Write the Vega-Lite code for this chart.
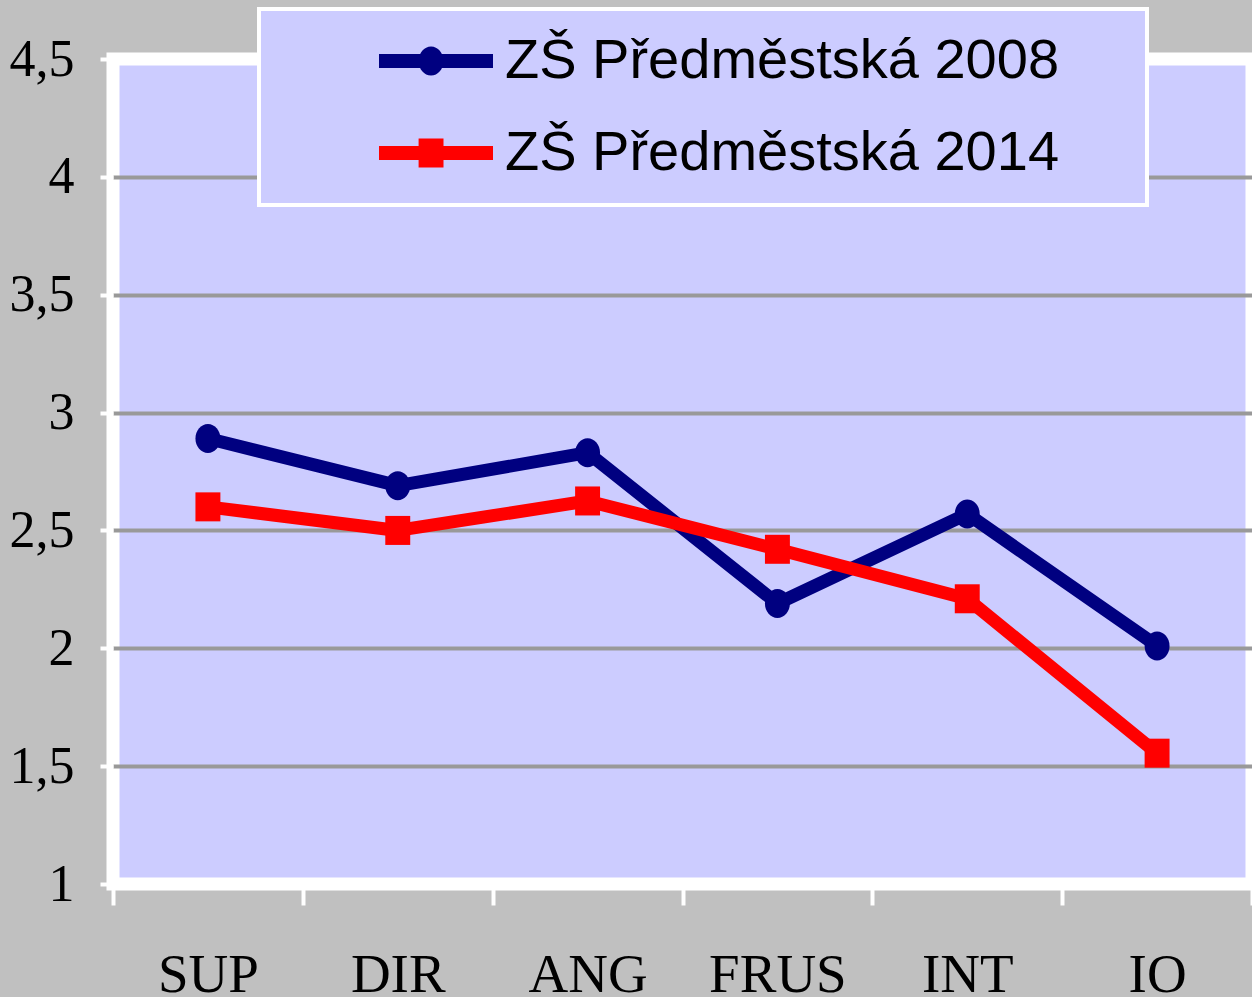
{
  "$schema": "https://vega.github.io/schema/vega-lite/v6.json",
  "width": 1139,
  "height": 825,
  "autosize": {"type": "none"},
  "padding": {"left": 113, "top": 59, "right": 0, "bottom": 113},
  "background": "#c0c0c0",
  "config": {
    "view": {"fill": "#ccccff", "stroke": "white", "strokeWidth": 13}
  },
  "data": {
    "values": [
      {"cat": "SUP", "series": "ZŠ Předměstská 2008", "value": 2.89},
      {"cat": "DIR", "series": "ZŠ Předměstská 2008", "value": 2.69},
      {"cat": "ANG", "series": "ZŠ Předměstská 2008", "value": 2.83},
      {"cat": "FRUS", "series": "ZŠ Předměstská 2008", "value": 2.19},
      {"cat": "INT", "series": "ZŠ Předměstská 2008", "value": 2.57},
      {"cat": "IO", "series": "ZŠ Předměstská 2008", "value": 2.01},
      {"cat": "SUP", "series": "ZŠ Předměstská 2014", "value": 2.6},
      {"cat": "DIR", "series": "ZŠ Předměstská 2014", "value": 2.5},
      {"cat": "ANG", "series": "ZŠ Předměstská 2014", "value": 2.625},
      {"cat": "FRUS", "series": "ZŠ Předměstská 2014", "value": 2.42},
      {"cat": "INT", "series": "ZŠ Předměstská 2014", "value": 2.21},
      {"cat": "IO", "series": "ZŠ Předměstská 2014", "value": 1.555}
    ]
  },
  "encoding": {
    "x": {
      "field": "cat", "type": "nominal",
      "sort": ["SUP", "DIR", "ANG", "FRUS", "INT", "IO"],
      "scale": {"type": "band", "paddingInner": 0, "paddingOuter": 0},
      "axis": {
        "title": null, "domain": false, "grid": false,
        "tickColor": "white", "tickSize": 21, "tickWidth": 4, "tickBand": "extent",
        "labelFont": "Liberation Serif", "labelFontSize": 55, "labelColor": "black",
        "labelBaseline": "alphabetic", "labelPadding": 86, "labelAngle": 0
      }
    },
    "y": {
      "field": "value", "type": "quantitative",
      "scale": {"domain": [1, 4.5], "nice": false, "zero": false},
      "axis": {
        "values": [1, 1.5, 2, 2.5, 3, 3.5, 4, 4.5],
        "title": null, "domain": false,
        "tickColor": "white", "tickSize": 13, "tickWidth": 4,
        "labelFont": "Liberation Serif", "labelFontSize": 52, "labelColor": "black",
        "labelPadding": 26,
        "labelExpr": "replace(toString(datum.value), '.', ',')",
        "gridColor": "#999999", "gridWidth": 4,
        "gridOpacity": {"condition": {"test": "datum.value == 1 || datum.value == 4.5", "value": 0}, "value": 1}
      }
    },
    "color": {
      "field": "series", "type": "nominal",
      "scale": {"domain": ["ZŠ Předměstská 2008", "ZŠ Předměstská 2014"], "range": ["#000080", "#ff0000"]},
      "legend": null
    }
  },
  "layer": [
    {
      "mark": {"type": "line", "strokeWidth": 13, "strokeJoin": "round"},
      "encoding": {
        "color": {
          "field": "series", "type": "nominal",
          "scale": {"domain": ["ZŠ Předměstská 2008", "ZŠ Předměstská 2014"], "range": ["#000080", "#ff0000"]},
          "legend": {
            "orient": "none", "legendX": 146, "legendY": -50, "zindex": 1,
            "title": " ", "titleOrient": "right", "titleFontSize": 1, "titlePadding": 64,
            "fillColor": "#ccccff", "strokeColor": "white", "padding": 24,
            "labelFont": "Liberation Sans", "labelFontSize": 56, "labelColor": "black", "labelLimit": 2000,
            "symbolSize": 900, "symbolOffset": 125, "labelOffset": 41, "rowPadding": 36,
            "encode": {
              "legend": {"update": {"strokeWidth": {"value": 4}}},
              "symbols": {"update": {
                "shape": {"signal": "datum.index === 0 ? 'M-3.8,-0.47H3.8V0.47H-3.8Z M-1.16,0A0.83,0.97 0 1,1 0.5,0A0.83,0.97 0 1,1 -1.16,0Z' : 'M-3.8,-0.47H3.8V0.47H-3.8Z M-1.16,-0.97H0.5V0.97H-1.16Z'"},
                "fill": {"scale": "color", "field": "value"},
                "fillOpacity": {"value": 1},
                "strokeWidth": {"value": 0}
              }}
            }
          }
        }
      }
    },
    {
      "transform": [{"filter": "datum.series === 'ZŠ Předměstská 2008'"}],
      "mark": {"type": "point", "filled": true, "opacity": 1, "size": 841, "shape": "M-0.86,0A0.86,1 0 1,1 0.86,0A0.86,1 0 1,1 -0.86,0Z"}
    },
    {
      "transform": [{"filter": "datum.series === 'ZŠ Předměstská 2014'"}],
      "mark": {"type": "point", "filled": true, "opacity": 1, "size": 841, "shape": "M-0.86,-1H0.86V1H-0.86Z"}
    }
  ]
}
